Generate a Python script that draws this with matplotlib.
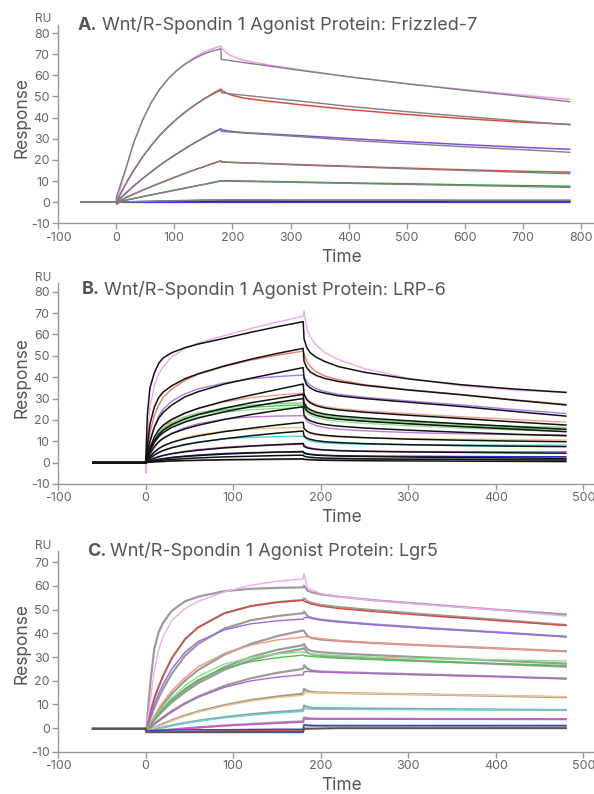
import matplotlib
matplotlib.use("Agg")
import matplotlib.pyplot as plt

plt.rcParams['font.family'] = ['Inter', 'DejaVu Sans']
plt.rcParams['axes.unicode_minus'] = False

# ---- panel A: Frizzled-7 ----
tA = [-60, 0, 1, 15, 30, 45, 60, 75, 90, 105, 120, 135, 150, 165, 180,
      181, 190, 200, 220, 260, 320, 400, 500, 600, 700, 780]
a_fit1 = [0, 0, 3, 14.5, 28, 38.5, 47, 53.5, 58.5, 62.5, 65.5, 68, 70, 71.5, 72.5,
          67.5, 67.2, 66.8, 66.0, 64.5, 62.2, 59.3, 56.0, 52.9, 50.0, 47.5]
a_data1 = [0, 0, 0.5, 14, 28, 38.5, 47, 53.5, 58.5, 62.5, 65.8, 68.5, 70.8, 72.5, 73.8,
           73.0, 70.5, 69.0, 67.0, 65.0, 62.5, 59.3, 56.0, 53.2, 50.6, 48.6]
a_fit2 = [0, 0, 0.6, 7.9, 15.0, 21.2, 26.7, 31.6, 35.8, 39.5, 42.9, 45.9, 48.6, 50.9, 53.0,
          51.8, 51.5, 51.1, 50.6, 49.4, 47.7, 45.3, 42.8, 40.5, 38.3, 36.6]
a_data2 = [0, 0, 0.3, 7.9, 15.0, 21.2, 26.7, 31.6, 35.8, 39.5, 42.9, 45.9, 48.7, 51.2, 53.5,
           53.0, 51.5, 50.5, 49.2, 47.8, 46.0, 43.8, 41.5, 39.5, 37.8, 36.8]
a_fit3 = [0, 0, 0.3, 3.9, 7.6, 11.1, 14.3, 17.4, 20.3, 23.0, 25.6, 28.0, 30.3, 32.5, 34.5,
          33.5, 33.3, 33.1, 32.7, 32.0, 30.9, 29.3, 27.7, 26.2, 24.8, 23.6]
a_data3 = [0, 0, 0, 3.9, 7.6, 11.1, 14.3, 17.4, 20.3, 23.0, 25.6, 28.1, 30.4, 32.7, 34.8,
           34.3, 33.8, 33.4, 32.9, 32.3, 31.4, 30.1, 28.6, 27.2, 25.9, 25.0]
a_fit4 = [0, 0, 0.1, 1.9, 3.8, 5.6, 7.3, 9.0, 10.6, 12.2, 13.8, 15.3, 16.7, 18.2, 19.5,
          19.0, 18.9, 18.8, 18.6, 18.2, 17.5, 16.8, 15.8, 15.0, 14.1, 13.5]
a_data4 = [0, 0, -1.0, 1.9, 3.8, 5.6, 7.3, 9.0, 10.6, 12.2, 13.8, 15.3, 16.7, 18.2, 19.6,
           19.2, 18.9, 18.8, 18.6, 18.3, 17.7, 17.0, 16.1, 15.3, 14.6, 14.2]
a_fit5 = [0, 0, 0, 0.86, 1.72, 2.57, 3.41, 4.25, 5.08, 5.9, 6.72, 7.54, 8.36, 9.18, 10.0,
          10.0, 10.0, 9.9, 9.8, 9.6, 9.3, 8.9, 8.4, 7.9, 7.4, 7.0]
a_data5 = [0, 0, 0, 0.86, 1.72, 2.57, 3.41, 4.25, 5.08, 5.9, 6.72, 7.54, 8.36, 9.18, 10.1,
           10.1, 10.1, 10.1, 10.0, 9.8, 9.5, 9.1, 8.7, 8.2, 7.8, 7.5]
a_fit6 = [0, 0, 0, 0.1, 0.2, 0.3, 0.4, 0.5, 0.55, 0.6, 0.7, 0.8, 0.85, 0.9, 1.0,
          1.0, 1.0, 1.0, 1.0, 1.0, 0.9, 0.9, 0.9, 0.8, 0.8, 0.8]
a_data6 = [0, 0, 0, 0.1, 0.25, 0.35, 0.45, 0.55, 0.6, 0.7, 0.8, 0.9, 1.0, 1.05, 1.1,
           1.1, 1.1, 1.1, 1.1, 1.0, 1.0, 1.0, 1.0, 0.9, 0.9, 0.9]
a_data7 = [0, 0, 0, 0.1, 0.1, 0.15, 0.2, 0.2, 0.25, 0.3, 0.3, 0.35, 0.4, 0.4, 0.45,
           0.45, 0.45, 0.45, 0.45, 0.45, 0.4, 0.4, 0.4, 0.4, 0.35, 0.35]
a_data8 = [0, 0, 0, -0.1, -0.1, -0.1, -0.1, -0.1, -0.1, -0.1, -0.1, -0.1, -0.1, -0.1, -0.1,
           -0.1, -0.1, -0.1, -0.1, -0.1, -0.1, -0.1, -0.1, -0.1, -0.1, -0.1]

# ---- panel B: LRP-6 ----
tB = [-60, 0, 0.5, 2, 5, 10, 15, 20, 30, 45, 60, 90, 120, 150, 180,
      181, 184, 188, 195, 205, 220, 250, 300, 360, 420, 480]
b_fit1 = [0, 0, 4, 22, 35, 42, 46.5, 49, 51.5, 53.8, 55.5, 58.2, 61.0, 63.6, 66.0,
          58.0, 54.0, 51.5, 49.3, 47.3, 45.0, 42.3, 39.2, 36.5, 34.5, 32.9]
b_data1 = [0, 0, -5, 12, 26, 36, 41.5, 45, 49.5, 53.5, 56, 59.5, 62.8, 65.8, 68.5,
           71.0, 63, 59, 55, 51.5, 48.3, 44.0, 39.5, 36.0, 34.0, 32.8]
b_fit2 = [0, 0, 1, 8, 18, 26, 30.5, 33.0, 36.0, 39.3, 41.6, 45.3, 48.4, 51.1, 53.5,
          47.5, 44.5, 42.5, 40.8, 39.4, 38.0, 36.2, 34.0, 31.8, 29.3, 27.0]
b_data2 = [0, 0, 0.5, 6, 14, 22, 27, 30.5, 34.5, 38.5, 41.3, 45.0, 48.0, 50.3, 52.2,
           51.0, 47.5, 45.0, 42.5, 40.5, 38.8, 36.5, 34.2, 31.9, 29.5, 27.3]
b_fit3 = [0, 0, 0.5, 4.5, 10, 16.5, 20.8, 23.5, 27.0, 30.8, 33.2, 36.8, 39.5, 42.0, 44.5,
          39.5, 36.5, 35.0, 33.5, 32.5, 31.3, 30.0, 28.3, 26.3, 24.0, 21.8]
b_data3 = [0, 0, 0.3, 4, 10, 17, 21.8, 25, 28.8, 32.2, 34.5, 37.3, 39.2, 40.3, 41.0,
           40.5, 38.0, 36.3, 34.6, 33.3, 32.0, 30.6, 28.9, 27.0, 24.9, 23.0]
b_fit4 = [0, 0, 0.3, 3, 7, 12, 15.3, 17.5, 20.3, 23.2, 25.4, 28.8, 31.6, 34.2, 36.8,
          32.0, 29.5, 28.0, 26.6, 25.6, 24.7, 23.6, 22.2, 20.7, 19.1, 17.6]
b_data4 = [0, 0, 0.2, 2.5, 6, 10.5, 14, 16.5, 19.8, 23.0, 25.3, 28.4, 30.4, 31.6, 32.5,
           32.0, 30.0, 28.6, 27.2, 26.2, 25.3, 24.2, 22.9, 21.5, 20.2, 18.9]
b_fit5 = [0, 0, 0.2, 2.5, 6, 10.3, 13.2, 15.2, 17.8, 20.5, 22.5, 25.5, 28.0, 30.0, 32.0,
          28.0, 26.0, 24.8, 23.6, 22.7, 21.9, 20.9, 19.6, 18.2, 16.9, 15.6]
b_fit6 = [0, 0, 0.2, 2.3, 5.5, 9.5, 12.2, 14.0, 16.5, 19.0, 20.9, 23.8, 26.2, 28.2, 30.0,
          26.3, 24.4, 23.2, 22.1, 21.2, 20.4, 19.4, 18.2, 16.9, 15.7, 14.5]
b_data5 = [0, 0, 0.2, 2.4, 6, 10.5, 13.8, 16.0, 18.8, 21.5, 23.3, 25.6, 26.9, 27.6, 28.0,
           27.5, 25.5, 24.3, 23.0, 22.0, 21.2, 20.2, 19.0, 17.9, 17.0, 16.5]
b_data6 = [0, 0, 0.2, 2.2, 5.6, 9.8, 13.0, 15.2, 18.0, 20.6, 22.4, 24.7, 25.9, 26.6, 27.0,
           26.5, 24.6, 23.4, 22.2, 21.2, 20.4, 19.4, 18.2, 17.1, 16.2, 15.6]
b_data7 = [0, 0, 0.2, 2.1, 5.3, 9.3, 12.4, 14.5, 17.2, 19.7, 21.4, 23.6, 24.8, 25.4, 25.8,
           25.3, 23.5, 22.3, 21.1, 20.2, 19.4, 18.4, 17.3, 16.2, 15.3, 14.6]
b_fit7 = [0, 0, 0.1, 1.8, 4.3, 7.5, 9.8, 11.4, 13.6, 15.8, 17.5, 20.2, 22.5, 24.4, 26.2,
          22.3, 20.6, 19.6, 18.6, 17.8, 17.1, 16.2, 15.2, 14.2, 13.3, 12.6]
b_data8 = [0, 0, 0.1, 1.5, 3.8, 7.0, 9.5, 11.3, 13.8, 16.4, 18.2, 20.4, 21.4, 21.8, 22.0,
           21.5, 19.6, 18.4, 17.3, 16.4, 15.7, 14.9, 14.1, 13.5, 13.1, 12.9]
b_fit8 = [0, 0, 0.1, 1.2, 2.8, 5.0, 6.6, 7.8, 9.5, 11.2, 12.5, 14.5, 16.1, 17.6, 18.9,
          16.0, 14.8, 14.0, 13.3, 12.8, 12.3, 11.7, 11.0, 10.5, 10.1, 9.8]
b_data9 = [0, 0, 0.1, 1.0, 2.5, 4.6, 6.3, 7.7, 9.6, 11.6, 13.0, 14.8, 15.7, 16.2, 16.5,
           16.0, 14.7, 13.8, 13.0, 12.4, 12.0, 11.6, 11.3, 11.0, 10.8, 10.6]
b_fit9 = [0, 0, 0, 0.9, 2.0, 3.6, 4.8, 5.7, 7.0, 8.4, 9.5, 11.2, 12.6, 13.8, 14.8,
          12.5, 11.5, 10.9, 10.3, 9.8, 9.4, 8.9, 8.4, 8.0, 7.7, 7.5]
b_data10 = [0, 0, 0, 0.7, 1.7, 3.2, 4.4, 5.4, 7.0, 8.6, 9.7, 11.1, 11.8, 12.2, 12.4,
            12.0, 10.9, 10.2, 9.6, 9.2, 8.9, 8.6, 8.4, 8.3, 8.2, 8.2]
b_fit10 = [0, 0, 0, 0.5, 1.2, 2.1, 2.8, 3.4, 4.2, 5.1, 5.8, 6.9, 7.7, 8.4, 9.0,
           7.6, 7.0, 6.6, 6.2, 5.9, 5.6, 5.3, 5.0, 4.8, 4.6, 4.4]
b_data11 = [0, 0, 0, 0.4, 1.0, 1.9, 2.6, 3.2, 4.2, 5.3, 6.1, 7.2, 7.9, 8.3, 8.6,
            8.2, 7.4, 6.9, 6.4, 6.0, 5.7, 5.4, 5.2, 5.1, 5.1, 5.1]
b_fit11 = [0, 0, 0, 0.3, 0.6, 1.1, 1.5, 1.8, 2.3, 2.9, 3.3, 4.0, 4.5, 4.9, 5.2,
           4.4, 4.0, 3.8, 3.5, 3.3, 3.1, 2.9, 2.6, 2.4, 2.2, 2.0]
b_data12 = [0, 0, 0, 0.3, 0.6, 1.1, 1.5, 1.9, 2.5, 3.1, 3.6, 4.3, 4.7, 4.9, 5.0,
            4.8, 4.3, 4.0, 3.7, 3.5, 3.3, 3.1, 3.0, 2.9, 2.8, 2.8]
b_fit12 = [0, 0, 0, 0.2, 0.4, 0.7, 1.0, 1.2, 1.5, 1.9, 2.2, 2.7, 3.0, 3.3, 3.5,
           3.0, 2.7, 2.5, 2.3, 2.1, 2.0, 1.8, 1.6, 1.5, 1.3, 1.2]
b_fit13 = [0, 0, 0, 0.1, 0.2, 0.4, 0.5, 0.6, 0.8, 1.0, 1.1, 1.4, 1.5, 1.7, 1.8,
           1.5, 1.4, 1.3, 1.2, 1.1, 1.0, 0.9, 0.8, 0.7, 0.6, 0.5]
b_data13 = [0, 0, 0, 0.1, 0.2, 0.3, 0.4, 0.5, 0.7, 0.9, 1.0, 1.2, 1.3, 1.4, 1.5,
            1.6, 1.6, 1.6, 1.6, 1.6, 1.6, 1.6, 1.6, 1.6, 1.6, 1.6]

# ---- panel C: Lgr5 ----
tC = [-60, 0, 1, 3, 6, 10, 15, 20, 30, 45, 60, 90, 120, 150, 180,
      181, 185, 190, 200, 220, 260, 320, 400, 480]
c_fit1 = [-0.3, -0.3, -1.5, 9, 21, 33.5, 40.5, 44.5, 49.5, 53.5, 55.5, 57.8, 58.8, 59.2, 59.4,
          60.1, 58.0, 57.3, 56.5, 55.5, 54.0, 52.3, 50.0, 48.0]
c_data1 = [-0.3, -0.3, -1.5, 5, 13, 24.5, 33, 38.5, 45.5, 50.5, 53.5, 57.5, 60.3, 62.0, 63.0,
           65.3, 59.2, 58.3, 56.8, 55.5, 53.9, 52.1, 49.9, 47.3]
c_fit2 = [-0.3, -0.3, -1.5, 3.0, 7.5, 12.5, 17.5, 22.0, 29.5, 37.5, 42.5, 48.5, 51.5, 53.2, 54.1,
          54.8, 53.5, 52.8, 52.0, 51.1, 49.8, 48.0, 45.8, 43.5]
c_data2 = [-0.3, -0.3, -1.5, 2.5, 7.0, 12.5, 17.5, 22.0, 29.5, 37.5, 42.5, 48.5, 51.5, 53.0, 54.0,
           53.5, 53.0, 52.3, 51.5, 50.5, 49.2, 47.5, 45.4, 43.3]
c_fit3 = [-0.3, -0.3, -1.5, 1.5, 4.5, 8.5, 12.8, 16.5, 23.0, 30.5, 35.5, 42.0, 45.5, 47.3, 48.5,
          49.2, 47.3, 46.5, 45.8, 45.0, 43.8, 42.3, 40.5, 38.6]
c_data3 = [-0.3, -0.3, -1.5, 2.0, 5.5, 10.0, 14.5, 18.5, 25.0, 32.0, 36.5, 41.5, 44.0, 45.3, 46.0,
           46.5, 46.8, 46.3, 45.6, 44.8, 43.6, 42.1, 40.4, 38.6]
c_fit4 = [-0.3, -0.3, -1.5, 0.5, 2.0, 4.5, 7.5, 10.0, 14.5, 20.0, 24.5, 31.0, 35.5, 38.8, 41.2,
          41.0, 38.8, 38.0, 37.4, 36.8, 35.9, 34.9, 33.7, 32.4]
c_data4 = [-0.3, -0.3, -1.5, 0.5, 2.3, 5.0, 8.3, 11.0, 15.8, 21.3, 25.8, 31.5, 35.0, 37.2, 38.4,
           38.6, 38.5, 38.2, 37.7, 37.0, 36.0, 34.9, 33.7, 32.4]
c_fit5 = [-0.3, -0.3, -1.5, 0, 1.5, 3.5, 5.8, 7.8, 11.5, 16.0, 19.8, 25.7, 30.0, 33.0, 35.0,
          35.5, 33.3, 32.5, 32.0, 31.5, 30.8, 29.8, 28.5, 27.2]
c_fit6 = [-0.3, -0.3, -1.5, 0, 1.4, 3.3, 5.5, 7.4, 10.9, 15.2, 18.9, 24.6, 28.7, 31.5, 33.5,
          33.8, 31.8, 31.0, 30.5, 30.0, 29.3, 28.3, 27.1, 25.9]
c_data5 = [-0.3, -0.3, -1.5, 0, 1.8, 4.0, 6.5, 8.8, 12.8, 17.8, 21.8, 27.0, 29.8, 31.3, 32.2,
           32.0, 31.6, 31.3, 31.0, 30.6, 30.0, 29.3, 28.8, 28.3]
c_data6 = [-0.3, -0.3, -1.5, 0, 1.6, 3.6, 6.0, 8.2, 12.0, 16.6, 20.4, 25.3, 28.0, 29.7, 30.8,
           30.6, 30.4, 30.2, 29.9, 29.5, 28.9, 28.1, 27.2, 26.4]
c_fit7 = [-0.3, -0.3, -1.5, -0.5, 0.5, 1.8, 3.3, 4.6, 7.2, 10.5, 13.3, 17.8, 21.0, 23.3, 25.0,
          26.5, 25.0, 24.3, 23.9, 23.6, 23.2, 22.6, 21.8, 20.9]
c_data7 = [-0.3, -0.3, -1.5, -0.5, 0.3, 1.5, 2.9, 4.2, 6.8, 10.2, 13.0, 17.2, 19.9, 21.5, 22.5,
           23.8, 23.9, 23.8, 23.6, 23.4, 23.0, 22.4, 21.7, 20.8]
c_fit8 = [-0.3, -0.3, -1.5, -1.0, -0.5, 0.2, 1.0, 1.8, 3.3, 5.3, 7.0, 9.7, 11.8, 13.3, 14.5,
          16.5, 15.6, 15.2, 15.0, 14.8, 14.5, 14.2, 13.6, 13.0]
c_data8 = [-0.3, -0.3, -1.5, -1.0, -0.6, 0, 0.8, 1.5, 3.0, 5.0, 6.7, 9.3, 11.3, 12.8, 13.8,
           14.8, 14.9, 14.9, 14.8, 14.7, 14.5, 14.2, 13.7, 13.2]
c_fit9 = [-0.3, -0.3, -1.5, -1.3, -1.0, -0.6, -0.1, 0.3, 1.1, 2.2, 3.1, 4.6, 5.8, 6.8, 7.5,
          9.5, 8.8, 8.5, 8.4, 8.3, 8.2, 8.0, 7.8, 7.6]
c_data9 = [-0.3, -0.3, -1.5, -1.3, -1.1, -0.7, -0.3, 0.1, 0.9, 2.0, 2.9, 4.3, 5.4, 6.3, 7.0,
           8.0, 8.0, 7.9, 7.9, 7.9, 7.8, 7.8, 7.7, 7.6]
c_fit10 = [-0.3, -0.3, -1.5, -1.5, -1.4, -1.3, -1.1, -0.9, -0.6, -0.1, 0.3, 1.1, 1.7, 2.3, 2.8,
           4.5, 4.1, 4.0, 3.9, 3.9, 3.9, 3.8, 3.8, 3.7]
c_data10 = [-0.3, -0.3, -1.5, -1.5, -1.4, -1.3, -1.1, -1.0, -0.7, -0.3, 0.1, 0.9, 1.5, 2.0, 2.5,
            3.8, 3.8, 3.8, 3.8, 3.8, 3.8, 3.8, 3.8, 3.8]
c_fit11 = [-0.3, -0.3, -1.5, -1.6, -1.6, -1.6, -1.6, -1.6, -1.5, -1.5, -1.4, -1.3, -1.2, -1.1, -1.0,
           1.5, 1.0, 0.9, 0.8, 0.8, 0.7, 0.7, 0.6, 0.6]
c_data11 = [-0.3, -0.3, -1.5, -1.2, -1.0, -1.0, -0.9, -0.9, -0.8, -0.8, -0.7, -0.7, -0.6, -0.5, -0.5,
            1.2, 1.2, 1.1, 1.1, 1.1, 1.1, 1.1, 1.1, 1.1]
c_fit12 = [-0.3, -0.3, -1.8, -1.8, -1.8, -1.8, -1.8, -1.8, -1.8, -1.8, -1.8, -1.8, -1.8, -1.8, -1.8,
           -0.2, -0.2, -0.2, -0.2, -0.1, -0.1, -0.1, -0.1, -0.1]
c_data12 = [-0.3, -0.3, -1.5, -1.8, -1.8, -1.8, -1.8, -1.8, -1.8, -1.7, -1.5, -1.4, -1.3, -1.3, -1.3,
            -0.4, -0.4, -0.3, -0.2, -0.1, -0.1, -0.1, -0.1, -0.1]

W, H = 594, 794
TXT = '#555555'
AXC = '#9a9a9a'


def style_axes(ax, xlim, ylim, xticks, yticks):
    ax.set_xlim(*xlim)
    ax.set_ylim(*ylim)
    ax.set_xticks(xticks)
    ax.set_yticks(yticks)
    for side in ['top', 'right']:
        ax.spines[side].set_visible(False)
    for side in ['left', 'bottom']:
        ax.spines[side].set_color(AXC)
        ax.spines[side].set_linewidth(1.0)
    ax.tick_params(direction='out', length=4, width=1, color=AXC,
                   labelcolor='#666666', labelsize=9, pad=2)
    ax.patch.set_alpha(0)


def add_texts(fig, ax, letter, name, title_xy, ru_y, resp_y, time_y):
    t1 = fig.text(title_xy[0] / W, 1 - title_xy[1] / H, letter, fontsize=13,
                  fontweight='bold', color=TXT, va='center')
    fig.canvas.draw()
    bb = t1.get_window_extent()
    fig.text((bb.x1 + 4) / W, 1 - title_xy[1] / H, name, fontsize=13,
             color=TXT, va='center')
    fig.text(43 / W, 1 - ru_y / H, 'RU', fontsize=8.5, color='#666666',
             ha='center', va='center')
    fig.text(22 / W, 1 - resp_y / H, 'Response', fontsize=12.5, color=TXT,
             rotation=90, ha='center', va='center')
    fig.text(342 / W, 1 - time_y / H, 'Time', fontsize=12.5, color=TXT,
             ha='center', va='center')


def main():
    fig = plt.figure(figsize=(W / 100, H / 100), dpi=100)
    left = 58 / W
    width = (593 - 58) / W

    # A
    axA = fig.add_axes([left, 1 - 223.3 / H, width, 198.3 / H])
    for vals, c in [(a_data1, '#f29af2'), (a_data2, '#e04a3c'), (a_data3, '#7b4fe0'),
                    (a_data4, '#d9503c'), (a_data5, '#26a626'), (a_data6, '#2aa0a0'),
                    (a_data7, '#1c1c5c'), (a_data8, '#5030e8')]:
        axA.plot(tA, vals, color=c, lw=1.1, zorder=2)
    for vals in [a_fit1, a_fit2, a_fit3, a_fit4, a_fit5, a_fit6]:
        axA.plot(tA, vals, color='#808080', lw=1.0, zorder=3)
    style_axes(axA, (-100, 820), (-10, 83.8), range(-100, 801, 100), range(-10, 81, 10))
    add_texts(fig, axA, 'A.', 'Wnt/R-Spondin 1 Agonist Protein: Frizzled-7',
              (78, 25), 19, 118, 258)

    # B
    axB = fig.add_axes([left, 1 - 484 / H, width, 201 / H])
    for vals, c in [(b_data1, '#f3a6f3'), (b_data2, '#ee7c68'), (b_data3, '#a57cf2'),
                    (b_data4, '#f4a08c'), (b_data5, '#7fd67f'), (b_data6, '#5cc45c'),
                    (b_data7, '#98e098'), (b_data8, '#c07ad8'), (b_data9, '#f2c87e'),
                    (b_data10, '#4fd6dc'), (b_data11, '#e046e0'), (b_data12, '#2a2ad0'),
                    (b_data13, '#8c8c8c')]:
        axB.plot(tB, vals, color=c, lw=1.0, zorder=2)
    for vals in [b_fit1, b_fit2, b_fit3, b_fit4, b_fit5, b_fit6, b_fit7, b_fit8,
                 b_fit9, b_fit10, b_fit11, b_fit12, b_fit13]:
        axB.plot(tB, vals, color='#111111', lw=1.1, zorder=3)
    style_axes(axB, (-100, 511), (-10, 84.1), range(-100, 501, 100), range(-10, 81, 10))
    add_texts(fig, axB, 'B.', 'Wnt/R-Spondin 1 Agonist Protein: LRP-6',
              (82, 290), 278, 378, 517)

    # C
    axC = fig.add_axes([left, 1 - 751.7 / H, width, 201 / H])
    for vals in [c_fit1, c_fit2, c_fit3, c_fit4, c_fit5, c_fit6, c_fit7, c_fit8,
                 c_fit9, c_fit10, c_fit11]:
        axC.plot(tC, vals, color='#9c9c9c', lw=1.6, zorder=2)
    for vals, c in [(c_data1, '#f6a8f6'), (c_data2, '#d84a3a'), (c_data3, '#9a66f0'),
                    (c_data4, '#f7957f'), (c_data5, '#88dd88'), (c_data6, '#4fbf4f'),
                    (c_data7, '#b266cc'), (c_data8, '#f3c88a'), (c_data9, '#5fd8d8'),
                    (c_data10, '#d648d6'), (c_data11, '#3344cc'), (c_data12, '#cc2a2a')]:
        axC.plot(tC, vals, color=c, lw=1.0, zorder=3)
    axC.plot(tC, c_fit12, color='#555555', lw=1.3, zorder=4)
    style_axes(axC, (-100, 511), (-10, 74.9), range(-100, 501, 100), range(-10, 71, 10))
    add_texts(fig, axC, 'C.', 'Wnt/R-Spondin 1 Agonist Protein: Lgr5',
              (87, 551), 546, 643, 786)

    fig.savefig('out.png', dpi=100)


if __name__ == '__main__':
    main()
